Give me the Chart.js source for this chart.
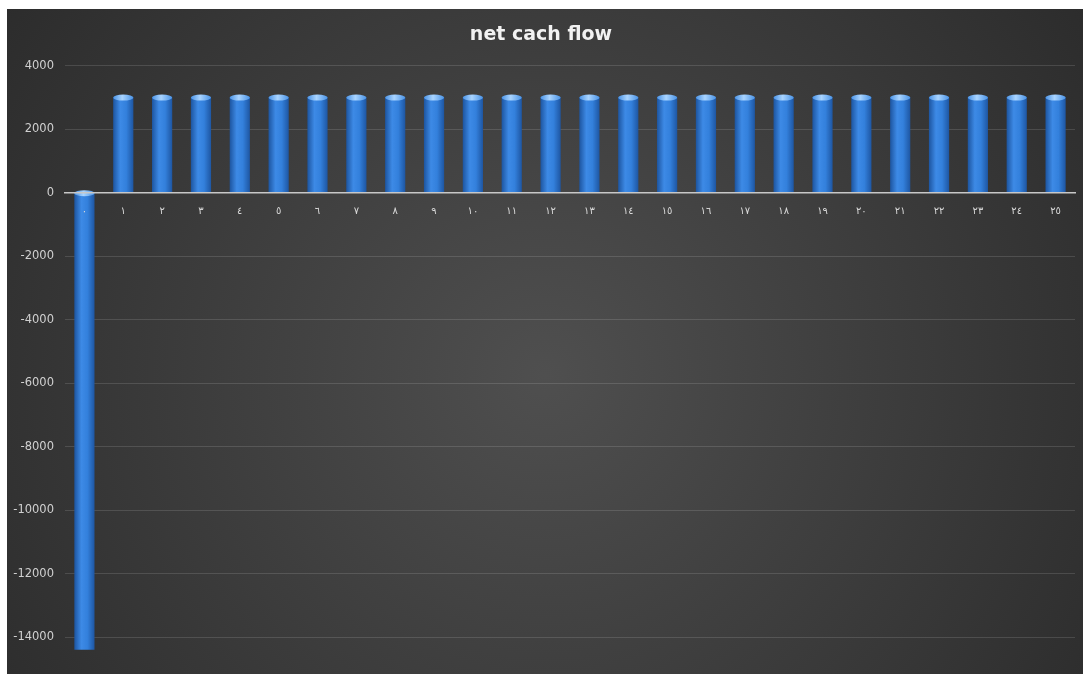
<!DOCTYPE html>
<html>
<head>
<meta charset="utf-8">
<title>net cach flow</title>
<script src="https://cdn.jsdelivr.net/npm/chart.js@4.4.0/dist/chart.umd.min.js"></script>
<style>
    html, body { margin: 0; padding: 0; background: #ffffff; }
    #wrap { position: absolute; left: 7px; top: 9px; width: 1076px; height: 665px; }
</style>
</head>
<body>
<div id="wrap"><canvas id="myChart"></canvas></div>
<script>
'use strict';

// years 0..25, written in arabic-indic digits like the original sheet
const categories = ['٠', '١', '٢', '٣', '٤', '٥', '٦', '٧', '٨', '٩', '١٠', '١١', '١٢',
    '١٣', '١٤', '١٥', '١٦', '١٧', '١٨', '١٩', '٢٠', '٢١', '٢٢', '٢٣', '٢٤', '٢٥'];

const cashFlow = [-14400, 3000, 3000, 3000, 3000, 3000, 3000, 3000, 3000, 3000, 3000, 3000, 3000,
    3000, 3000, 3000, 3000, 3000, 3000, 3000, 3000, 3000, 3000, 3000, 3000, 3000];

const yTicks = [4000, 2000, 0, -2000, -4000, -6000, -8000, -10000, -12000, -14000];

const barShare = 0.52;

/* dark radial background */
const backgroundPlugin = {
    id: 'darkBackground',
    beforeDraw: function(chart) {
        const ctx = chart.ctx;
        const w = chart.width, h = chart.height;
        const g = ctx.createRadialGradient(w * 0.5, h * 0.55, 0, w * 0.5, h * 0.55, w * 0.68);
        g.addColorStop(0, '#4f4f4f');
        g.addColorStop(1, '#282828');
        ctx.save();
        ctx.fillStyle = g;
        ctx.fillRect(0, 0, w, h);
        ctx.restore();
    }
};

/* cylinder top - light blue ellipse on the end of each bar */
const capPlugin = {
    id: 'cylinderCap',
    afterDatasetsDraw: function(chart) {
        const ctx = chart.ctx;
        const meta = chart.getDatasetMeta(0);
        for (let bar of meta.data) {
            const top = Math.min(bar.y, bar.base);
            const rx = bar.width / 2;
            const g = ctx.createLinearGradient(bar.x - rx, 0, bar.x + rx, 0);
            g.addColorStop(0, '#4a93e6');
            g.addColorStop(0.45, '#a9d4ff');
            g.addColorStop(1, '#4a93e6');
            ctx.save();
            ctx.fillStyle = g;
            ctx.beginPath();
            ctx.ellipse(bar.x, top, rx, 3, 0, 0, Math.PI * 2);
            ctx.fill();
            ctx.restore();
        }
    }
};

const barColor = function(context) {
    const chart = context.chart;
    const area = chart.chartArea;
    if (!area) {
        return '#2f74d0';
    }
    const x = chart.scales.x.getPixelForValue(context.dataIndex);
    const half = (area.right - area.left) / categories.length * barShare / 2;
    const g = chart.ctx.createLinearGradient(x - half, 0, x + half, 0);
    g.addColorStop(0, '#1d55a0');
    g.addColorStop(0.35, '#3d8ae6');
    g.addColorStop(0.65, '#3380dc');
    g.addColorStop(1, '#1e56a2');
    return g;
};

const ctx = document.getElementById('myChart').getContext('2d');

const chart = new Chart(ctx, {
    type: 'bar',
    data: {
        labels: categories,
        datasets: [{
            label: 'net cach flow',
            data: cashFlow,
            backgroundColor: barColor,
            borderWidth: 0,
            barPercentage: barShare,
            categoryPercentage: 1
        }]
    },
    options: {
        responsive: true,
        maintainAspectRatio: false,
        animation: false,
        layout: {
            padding: { left: 0, right: 8, top: 0, bottom: 0 }
        },
        plugins: {
            legend: { display: false },
            tooltip: { enabled: false },
            title: {
                display: true,
                text: 'net cach flow',
                color: '#f2f2f2',
                font: { family: 'DejaVu Sans', size: 19, weight: 'bold' },
                padding: { top: 15, bottom: 19 }
            }
        },
        scales: {
            x: {
                position: { y: 0 },
                grid: { display: false, drawTicks: false },
                border: { display: true, color: '#c8c8c8', width: 1.5, z: 1 },
                ticks: {
                    z: 1,
                    color: '#d9d9d9',
                    font: { family: 'DejaVu Sans', size: 10 },
                    padding: 13,
                    maxRotation: 0,
                    autoSkip: false
                }
            },
            y: {
                min: -14600,
                max: 4000,
                afterBuildTicks: function(scale) {
                    scale.ticks = yTicks.map(function(v) { return { value: v }; });
                },
                afterFit: function(scale) {
                    scale.width = 58;
                },
                grid: {
                    drawTicks: false,
                    color: function(c) {
                        return c.tick && c.tick.value === 0 ? 'rgba(0,0,0,0)' : 'rgba(255,255,255,0.13)';
                    }
                },
                border: { display: false },
                ticks: {
                    color: '#d0d0d0',
                    font: { family: 'DejaVu Sans', size: 11.5 },
                    padding: 11,
                    callback: function(value) {
                        return String(value);
                    }
                }
            }
        }
    },
    plugins: [backgroundPlugin, capPlugin]
});
</script>
</body>
</html>
